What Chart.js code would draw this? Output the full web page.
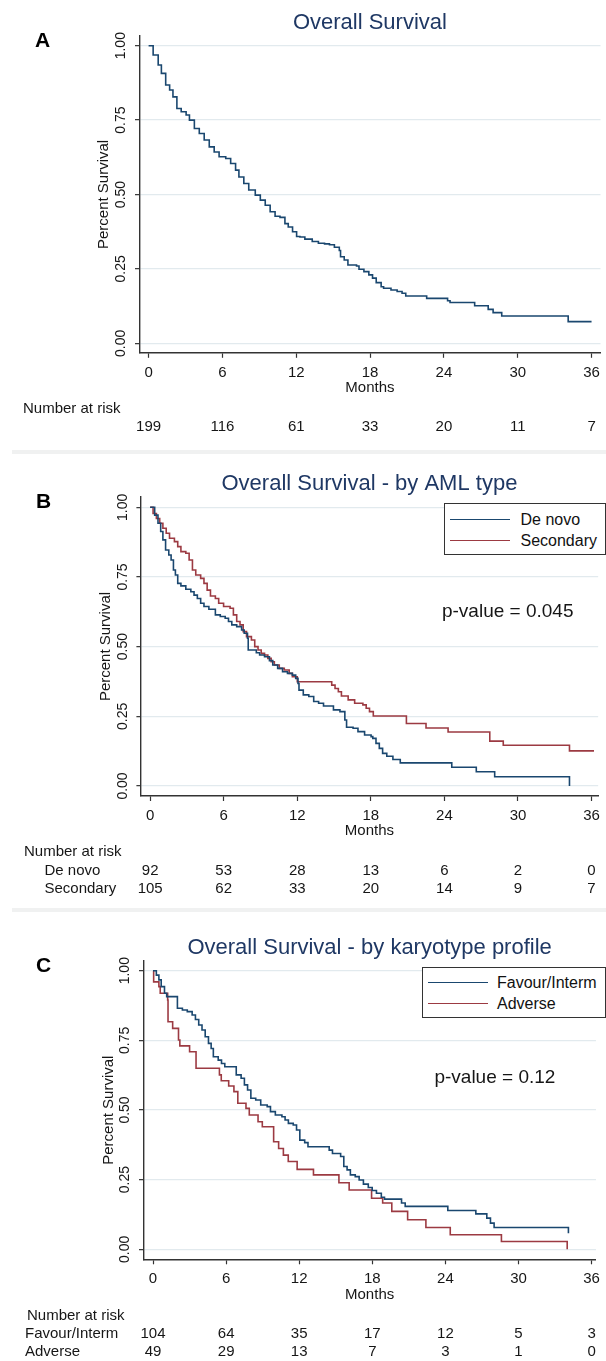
<!DOCTYPE html>
<html><head><meta charset="utf-8">
<script src="https://cdn.jsdelivr.net/npm/chart.js@4.4.1/dist/chart.umd.min.js"></script>
<style>
html,body{margin:0;padding:0;background:#fff;overflow:hidden;width:606px;height:1361px;}
body{position:relative;font-family:"Liberation Sans",Arial,sans-serif;}
canvas{position:absolute;left:0;}
.letter{position:absolute;font-weight:bold;font-size:21px;line-height:21px;color:#000;}
.sep{position:absolute;left:12px;width:594px;height:4px;background:#f0f1f1;}
.legend{position:absolute;border:1px solid #333;background:#fff;box-sizing:border-box;font-size:16px;color:#111;}
.legend .sw{position:absolute;height:0;width:60px;border-top:1.5px solid;}
.legend .lb{position:absolute;line-height:20px;white-space:nowrap;}
</style></head><body>
<div class="sep" style="top:450px"></div>
<div class="sep" style="top:908px"></div>
<canvas id="cA" width="606" height="440" style="top:0px"></canvas>
<canvas id="cB" width="606" height="439" style="top:461px"></canvas>
<canvas id="cC" width="606" height="436" style="top:925px"></canvas>
<div class="letter" style="left:35px;top:29px">A</div>
<div class="letter" style="left:36px;top:490px">B</div>
<div class="letter" style="left:36px;top:954px">C</div>
<div class="legend" id="legB" style="left:444px;top:503px;width:162px;height:52px"></div>
<div class="legend" id="legC" style="left:422px;top:967px;width:184px;height:51px"></div>
<script>
// ---------- shared axes ----------
const monthTicks = [0, 6, 12, 18, 24, 30, 36];
const survTicks = [0, 0.25, 0.5, 0.75, 1];
const survTickLabels = ['0.00', '0.25', '0.50', '0.75', '1.00'];

// ---------- Panel A: overall survival ----------
const allMonths = [0, 0.37, 0.78, 1.04, 1.39, 1.71, 1.98, 2.30, 2.65, 3.05, 3.32, 3.72, 4.12, 4.52, 4.93, 5.33, 5.73, 6.27, 6.67, 7.07, 7.34, 7.74, 8.14, 8.67, 9.08, 9.48, 9.88, 10.28, 10.68, 11.08, 11.35, 11.7, 12.03, 12.3, 12.7, 13.3, 13.8, 14.3, 14.7, 15.1, 15.5, 15.6, 15.9, 16.2, 16.9, 17.1, 17.5, 17.9, 18.2, 18.5, 18.9, 19.1, 19.7, 20.2, 20.6, 20.9, 22.6, 24.3, 24.5, 26.5, 27.6, 28.0, 28.7, 34.1, 36];
const allSurv = [1, 0.969, 0.935, 0.907, 0.868, 0.851, 0.828, 0.789, 0.778, 0.767, 0.75, 0.722, 0.705, 0.683, 0.660, 0.643, 0.627, 0.621, 0.604, 0.582, 0.559, 0.537, 0.515, 0.498, 0.481, 0.464, 0.442, 0.427, 0.423, 0.402, 0.391, 0.375, 0.359, 0.357, 0.35, 0.342, 0.336, 0.334, 0.331, 0.323, 0.312, 0.291, 0.28, 0.263, 0.26, 0.249, 0.241, 0.23, 0.219, 0.204, 0.19, 0.185, 0.179, 0.174, 0.168, 0.159, 0.151, 0.143, 0.137, 0.126, 0.114, 0.103, 0.092, 0.073, 0.073];
const riskAll = [199, 116, 61, 33, 20, 11, 7];

// ---------- Panel B: by AML type ----------
const deNovoMonths = [0, 0.37, 0.64, 0.86, 1.04, 1.26, 1.52, 1.71, 1.90, 2.06, 2.25, 2.51, 2.91, 3.32, 3.58, 3.85, 4.12, 4.39, 4.79, 5.32, 5.72, 6.12, 6.39, 6.66, 7.06, 7.46, 7.67, 7.94, 8.0, 8.66, 8.93, 9.33, 9.73, 10.0, 10.4, 10.8, 11.2, 11.6, 11.87, 12.06, 12.14, 12.49, 12.94, 13.34, 13.74, 14.14, 14.95, 15.48, 15.88, 16.02, 16.55, 16.95, 17.49, 18.02, 18.16, 18.42, 18.69, 18.96, 19.3, 19.8, 20.4, 24.6, 26.6, 28.1, 34.2];
const deNovoSurv = [1, 0.972, 0.943, 0.913, 0.883, 0.847, 0.829, 0.811, 0.775, 0.757, 0.727, 0.718, 0.706, 0.697, 0.685, 0.673, 0.656, 0.644, 0.634, 0.614, 0.608, 0.602, 0.590, 0.578, 0.572, 0.560, 0.548, 0.530, 0.488, 0.478, 0.470, 0.464, 0.450, 0.434, 0.422, 0.410, 0.404, 0.398, 0.386, 0.368, 0.344, 0.327, 0.321, 0.303, 0.297, 0.287, 0.273, 0.267, 0.237, 0.211, 0.207, 0.195, 0.183, 0.177, 0.171, 0.153, 0.135, 0.117, 0.107, 0.095, 0.083, 0.067, 0.051, 0.033, 0];
const secondaryMonths = [0, 0.24, 0.51, 0.78, 1.04, 1.31, 1.58, 1.98, 2.25, 2.51, 2.91, 3.18, 3.45, 3.72, 4.12, 4.39, 4.65, 4.92, 5.32, 5.59, 5.99, 6.52, 6.79, 7.06, 7.33, 7.59, 7.86, 8.26, 8.53, 8.80, 9.06, 9.33, 9.60, 9.87, 10.13, 10.53, 10.94, 11.34, 11.60, 12.0, 14.81, 15.08, 15.35, 15.6, 16.15, 16.68, 17.35, 17.62, 17.89, 18.2, 20.9, 22.5, 24.3, 27.7, 28.8, 34.2, 36.2];
const secondarySurv = [1, 0.978, 0.960, 0.943, 0.925, 0.907, 0.889, 0.877, 0.859, 0.841, 0.835, 0.811, 0.775, 0.757, 0.745, 0.727, 0.703, 0.682, 0.673, 0.656, 0.644, 0.638, 0.614, 0.590, 0.578, 0.554, 0.536, 0.524, 0.5, 0.488, 0.476, 0.470, 0.458, 0.446, 0.434, 0.422, 0.416, 0.404, 0.392, 0.374, 0.362, 0.350, 0.338, 0.323, 0.309, 0.297, 0.291, 0.279, 0.267, 0.251, 0.224, 0.208, 0.194, 0.161, 0.146, 0.126, 0.126];
const riskDeNovo = [92, 53, 28, 13, 6, 2, 0];
const riskSecondary = [105, 62, 33, 20, 14, 9, 7];

// ---------- Panel C: by karyotype profile ----------
const favMonths = [0, 0.27, 0.48, 0.67, 0.94, 1.12, 2.0, 2.41, 2.81, 3.21, 3.48, 3.75, 4.02, 4.28, 4.55, 4.77, 4.95, 5.35, 5.62, 5.89, 6.83, 7.23, 7.5, 7.76, 8.03, 8.43, 8.84, 9.37, 9.64, 10.04, 10.58, 10.84, 11.11, 11.51, 11.78, 12.05, 12.45, 12.72, 14.46, 14.73, 15.4, 15.66, 15.93, 16.2, 16.6, 16.92, 17.27, 17.67, 17.99, 18.34, 18.74, 19.0, 20.4, 20.7, 24.2, 26.5, 27.4, 27.7, 28.0, 34.1];
const favSurv = [1, 0.984, 0.967, 0.943, 0.919, 0.907, 0.865, 0.859, 0.853, 0.841, 0.825, 0.805, 0.787, 0.763, 0.739, 0.721, 0.691, 0.679, 0.667, 0.655, 0.626, 0.614, 0.590, 0.572, 0.542, 0.536, 0.518, 0.512, 0.494, 0.482, 0.476, 0.464, 0.452, 0.446, 0.428, 0.392, 0.383, 0.368, 0.356, 0.344, 0.333, 0.297, 0.285, 0.267, 0.261, 0.249, 0.234, 0.222, 0.211, 0.201, 0.187, 0.18, 0.166, 0.154, 0.139, 0.127, 0.112, 0.094, 0.078, 0.058];
const advMonths = [0, 0.05, 0.48, 0.59, 1.2, 1.23, 1.61, 2.09, 2.2, 3.0, 3.53, 5.45, 5.6, 6.21, 6.64, 6.96, 7.63, 7.9, 8.62, 8.97, 9.9, 10.31, 10.7, 11.1, 11.83, 13.17, 15.26, 16.1, 17.94, 18.85, 19.6, 20.9, 22.4, 24.4, 28.6, 34.0];
const advSurv = [1, 0.96, 0.943, 0.919, 0.895, 0.817, 0.793, 0.751, 0.730, 0.709, 0.650, 0.626, 0.605, 0.586, 0.566, 0.524, 0.506, 0.482, 0.458, 0.440, 0.386, 0.362, 0.338, 0.315, 0.287, 0.267, 0.239, 0.213, 0.183, 0.166, 0.136, 0.106, 0.078, 0.052, 0.028, 0];
const riskFav = [104, 64, 35, 17, 12, 5, 3];
const riskAdv = [49, 29, 13, 7, 3, 1, 0];

// ---------- styling ----------
const FONT = '"Liberation Sans", Arial, sans-serif';
const NAVY = '#1a476f';
const MAROON = '#9c3a42';
const TEXT = '#161616';
const AXIS = '#333333';

const riskPlugin = {
  id: 'risk',
  afterDraw(chart, args, o) {
    const ctx = chart.ctx;
    const xs = chart.scales.x, ys = chart.scales.y;
    const base = chart.chartArea.bottom;
    ctx.save();
    ctx.fillStyle = TEXT;
    ctx.textBaseline = 'middle';
    ctx.font = '15px ' + FONT;
    ctx.textAlign = 'left';
    ctx.fillText('Number at risk', o.headerX, base + 56.3);
    o.rows.forEach((row, r) => {
      const y = base + 74.5 + r * 18.3;
      if (row.label) { ctx.textAlign = 'left'; ctx.fillText(row.label, o.labelX, y); }
      ctx.textAlign = 'center';
      monthTicks.forEach((m, i) => ctx.fillText(String(row.values[i]), xs.getPixelForValue(m), y));
    });
    if (o.pText) {
      ctx.font = '19px ' + FONT;
      ctx.textAlign = 'left';
      ctx.fillText(o.pText, xs.getPixelForValue(o.pX), ys.getPixelForValue(o.pY));
    }
    ctx.restore();
  }
};

function makePanel(p) {
  const tickFont = { family: FONT, size: 15 };
  return new Chart(document.getElementById(p.id), {
    type: 'line',
    data: {
      datasets: p.series.map(s => ({
        label: s.label,
        data: s.months.map((m, i) => ({ x: m, y: s.surv[i] })),
        borderColor: s.color, borderWidth: 1.6, pointRadius: 0,
        stepped: 'before', fill: false, tension: 0
      }))
    },
    options: {
      responsive: false, animation: false, events: [],
      layout: { autoPadding: false, padding: { left: 0, right: 0, top: 0, bottom: p.padBottom } },
      plugins: {
        legend: { display: false }, tooltip: { enabled: false },
        title: { display: true, text: p.title, color: '#1f3864', fullSize: false,
                 font: { family: FONT, size: 22, weight: 'normal', lineHeight: 1.182 },
                 padding: { top: 10, bottom: 0 } },
        risk: p.risk
      },
      scales: {
        x: {
          type: 'linear', min: p.xMin, max: p.xMax,
          afterFit: s => { s.height = 45; },
          afterBuildTicks: s => { s.ticks = monthTicks.map(v => ({ value: v })); },
          ticks: { font: tickFont, color: TEXT, padding: 6, minRotation: 0, maxRotation: 0, autoSkip: false },
          grid: { display: true, drawOnChartArea: false, drawTicks: true, tickLength: 5, tickColor: AXIS, tickWidth: 1.2 },
          border: { display: true, color: AXIS, width: 1.4 },
          title: { display: true, text: 'Months', font: tickFont, color: TEXT, padding: { top: 0, bottom: 0.8 } }
        },
        y: {
          type: 'linear', min: p.yMin, max: p.yMax,
          afterFit: s => { s.width = p.left; },
          afterBuildTicks: s => { s.ticks = survTicks.map(v => ({ value: v })); },
          ticks: { font: { family: FONT, size: 14 }, color: TEXT, padding: 0, minRotation: 90, maxRotation: 90,
                   crossAlign: 'center', autoSkip: false,
                   callback: v => survTickLabels[survTicks.indexOf(v)] },
          grid: { color: '#e2eaee', lineWidth: 1.3, tickColor: AXIS, tickLength: 4.3, tickWidth: 1.2 },
          border: { display: true, color: AXIS, width: 1.4 },
          title: { display: true, text: 'Percent Survival', font: tickFont, color: TEXT, padding: { top: p.yTitlePad, bottom: 0 } }
        }
      }
    },
    plugins: [riskPlugin]
  });
}

makePanel({
  id: 'cA', title: 'Overall Survival', left: 139.3, padBottom: 42.2,
  xMin: -0.755, xMax: 36.73, yMin: -0.0319, yMax: 1.0326, yTitlePad: 94.5,
  series: [{ label: 'Overall', months: allMonths, surv: allSurv, color: NAVY }],
  risk: { headerX: 23, labelX: 23, rows: [{ label: '', values: riskAll }] }
});
makePanel({
  id: 'cB', title: 'Overall Survival - by AML type', left: 140.7, padBottom: 59,
  xMin: -0.77, xMax: 36.54, yMin: -0.0359, yMax: 1.037, yTitlePad: 96.8,
  series: [{ label: 'De novo', months: deNovoMonths, surv: deNovoSurv, color: NAVY },
           { label: 'Secondary', months: secondaryMonths, surv: secondarySurv, color: MAROON }],
  risk: { headerX: 24, labelX: 44.5, rows: [{ label: 'De novo', values: riskDeNovo }, { label: 'Secondary', values: riskSecondary }],
          pText: 'p-value = 0.045', pX: 23.8, pY: 0.624 }
});
makePanel({
  id: 'cC', title: 'Overall Survival - by karyotype profile', left: 143.3, padBottom: 56.7,
  xMin: -0.80, xMax: 36.36, yMin: -0.0359, yMax: 1.0348, yTitlePad: 100,
  series: [{ label: 'Favour/Interm', months: favMonths, surv: favSurv, color: NAVY },
           { label: 'Adverse', months: advMonths, surv: advSurv, color: MAROON }],
  risk: { headerX: 27, labelX: 25, rows: [{ label: 'Favour/Interm', values: riskFav }, { label: 'Adverse', values: riskAdv }],
          pText: 'p-value = 0.12', pX: 23.1, pY: 0.617 }
});

// HTML legends
function buildLegend(id, items, rowsY, swLeft, textLeft) {
  const el = document.getElementById(id);
  items.forEach((it, i) => {
    const sw = document.createElement('div');
    sw.className = 'sw';
    sw.style.left = swLeft + 'px'; sw.style.top = (rowsY[i] - 0.75) + 'px'; sw.style.borderTopColor = it.color;
    const lb = document.createElement('div');
    lb.className = 'lb';
    lb.style.left = textLeft + 'px'; lb.style.top = (rowsY[i] - 10) + 'px';
    lb.textContent = it.label;
    el.appendChild(sw); el.appendChild(lb);
  });
}
buildLegend('legB', [{ label: 'De novo', color: NAVY }, { label: 'Secondary', color: MAROON }], [15.5, 37], 5, 75.5);
buildLegend('legC', [{ label: 'Favour/Interm', color: NAVY }, { label: 'Adverse', color: MAROON }], [14.7, 36], 5, 74);
</script>
</body></html>
